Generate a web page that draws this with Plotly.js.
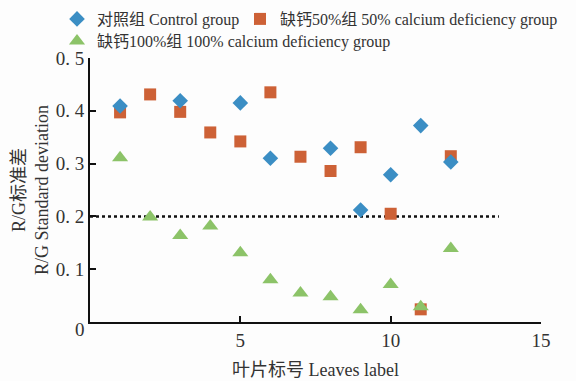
<!DOCTYPE html>
<html><head><meta charset="utf-8">
<script src="https://cdn.plot.ly/plotly-3.0.1.min.js"></script>
<style>html,body{margin:0;padding:0;background:#fdfdfd;}#chart{width:576px;height:381px;}</style>
</head><body><div id="chart"></div>
<script>
const leaves = [1,2,3,4,5,6,7,8,9,10,11,12];
const controlX = [1,3,5,6,8,9,10,11,12];
const controlY = [0.409,0.419,0.415,0.310,0.329,0.212,0.279,0.372,0.303];
const ca50Y = [0.397,0.431,0.398,0.359,0.342,0.435,0.313,0.286,0.331,0.205,0.024,0.314];
const ca100Y = [0.311,0.199,0.164,0.182,0.131,0.080,0.055,0.048,0.023,0.071,0.029,0.139];
const refX = [0,13.6];
const refY = [0.2,0.2];
const names = ['对照组 Control group','缺钙50%组 50% calcium deficiency group','缺钙100%组 100% calcium deficiency group'];
const FONT = 'Liberation Serif, Noto Sans CJK SC, serif';
const TXT = '#333';

const traces = [
  {x:refX,y:refY,mode:'lines',line:{color:'#111',width:2.5,dash:'dot'},showlegend:false,hoverinfo:'skip'},
  {x:leaves,y:ca50Y,mode:'markers',name:names[1],marker:{symbol:'square',size:12,color:'#cd6136'},legend:'legend2'},
  {x:controlX,y:controlY,mode:'markers',name:names[0],marker:{symbol:'diamond',size:12,color:'#3b8ec4'},legend:'legend'},
  {x:leaves,y:ca100Y,mode:'markers',name:names[2],marker:{symbol:'triangle-up',size:14,color:'#8cc368'},legend:'legend3'}
];

function leg(xpx, ytop){
  return {orientation:'h',xref:'container',yref:'container',x:xpx/576,y:1-ytop/381,xanchor:'left',yanchor:'top',
    font:{size:16,family:FONT,color:TXT},bgcolor:'rgba(0,0,0,0)',itemwidth:30};
}

const layout = {
  width:576,height:381,
  paper_bgcolor:'#fdfdfd',plot_bgcolor:'#fdfdfd',
  margin:{l:90,r:35,t:56,b:59},
  font:{family:FONT,size:14,color:TXT},
  xaxis:{range:[0,15],tickvals:[5,10,15],ticktext:['5','10','15'],showgrid:false,zeroline:false,
    showline:true,linecolor:'#111',linewidth:2,ticks:'inside',ticklen:6,tickwidth:2,tickcolor:'#111',
    tickfont:{size:19,family:FONT,color:TXT},
    title:{text:'叶片标号 Leaves label',font:{size:18,family:FONT,color:TXT},standoff:14}},
  yaxis:{range:[0,0.5],tickvals:[0.1,0.2,0.3,0.4,0.5],ticktext:['0. 1','0. 2','0. 3','0. 4','0. 5'],showgrid:false,zeroline:false,
    showline:true,linecolor:'#111',linewidth:2,ticks:'inside',ticklen:6,tickwidth:2,tickcolor:'#111',
    tickfont:{size:19,family:FONT,color:TXT},
    title:{text:'R/G标准差<br>R/G Standard deviation',font:{size:18,family:FONT,color:TXT},standoff:2}},
  legend:leg(57,2),
  legend2:leg(240,2),
  legend3:leg(57,24),
  annotations:[{text:'0',xref:'paper',yref:'paper',x:-0.022,y:-0.03,showarrow:false,xanchor:'center',yanchor:'middle',font:{size:19,family:FONT,color:TXT}}],
  showlegend:true
};
Plotly.newPlot('chart',traces,layout,{displayModeBar:false,staticPlot:true});
</script></body></html>
